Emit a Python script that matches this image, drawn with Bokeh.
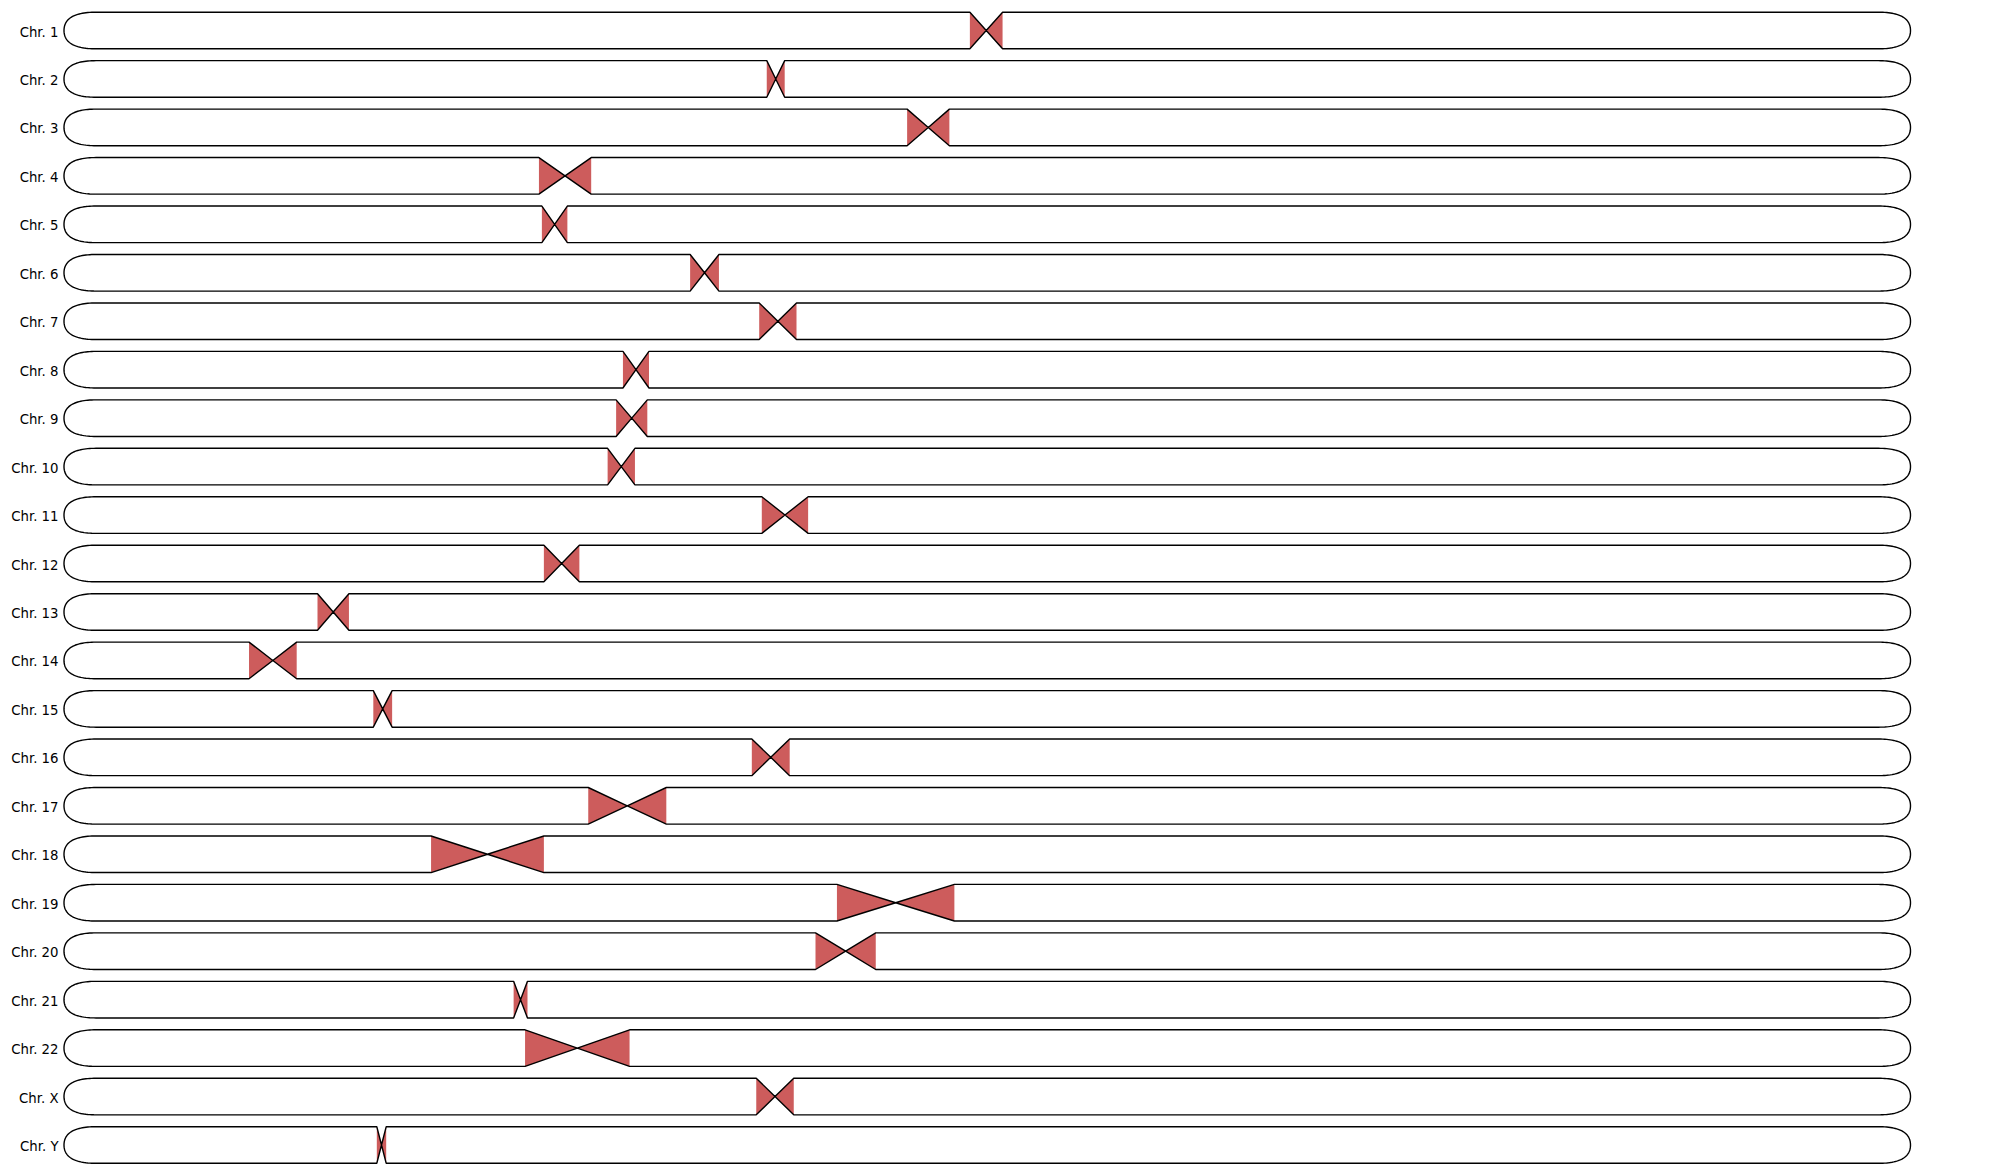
import numpy as np
from bokeh.plotting import figure
from bokeh.models import Range1d
from bokeh.embed import file_html
from bokeh.resources import INLINE
from bokeh.core.properties import value

# ---- data (centromere start / end as fraction of chromosome length) ----
chromosomes = ["Chr. 1", "Chr. 2", "Chr. 3", "Chr. 4", "Chr. 5", "Chr. 6",
               "Chr. 7", "Chr. 8", "Chr. 9", "Chr. 10", "Chr. 11", "Chr. 12",
               "Chr. 13", "Chr. 14", "Chr. 15", "Chr. 16", "Chr. 17", "Chr. 18",
               "Chr. 19", "Chr. 20", "Chr. 21", "Chr. 22", "Chr. X", "Chr. Y"]
cen_start = [0.4906, 0.3806, 0.4566, 0.2572, 0.2588, 0.3391,
             0.3765, 0.3027, 0.2990, 0.2944, 0.3779, 0.2599,
             0.1373, 0.1002, 0.1675, 0.3725, 0.2839, 0.1988,
             0.4186, 0.4070, 0.2435, 0.2497, 0.3749, 0.1694]
cen_end = [0.5083, 0.3903, 0.4795, 0.2855, 0.2726, 0.3547,
           0.3967, 0.3168, 0.3159, 0.3092, 0.4030, 0.2791,
           0.1543, 0.1260, 0.1777, 0.3930, 0.3262, 0.2599,
           0.4822, 0.4396, 0.2510, 0.3063, 0.3952, 0.1745]

# ---- layout ----
W, H = 2011, 1175
PX0, PX1 = 63.5, 1910.0          # pixel span of a chromosome
SPAN = PX1 - PX0
ROW0, ROWN = 30.0, 1144.5          # pixel centers of first / last row
n = len(chromosomes)
STEP = (ROWN - ROW0) / (n - 1)
HALF = 18.3 / STEP                 # half height in row units
CAP = 32.0 / SPAN                  # rounded cap width in x units


def qbez(p0, p1, p2, m=30):
    t = np.linspace(0, 1, m)
    x = (1 - t) ** 2 * p0[0] + 2 * t * (1 - t) * p1[0] + t ** 2 * p2[0]
    y = (1 - t) ** 2 * p0[1] + 2 * t * (1 - t) * p1[1] + t ** 2 * p2[1]
    return list(x), list(y)


out_xs, out_ys, tri_xs, tri_ys = [], [], [], []
for i in range(n):
    cs, ce = cen_start[i], cen_end[i]
    mid = (cs + ce) / 2
    top, bot, c = i - HALF, i + HALF, float(i)
    xs, ys = [CAP, cs, mid, ce, 1 - CAP], [top, top, c, top, top]
    bx, by = qbez((1 - CAP, top), (1, top), (1, c)); xs += bx; ys += by
    bx, by = qbez((1, c), (1, bot), (1 - CAP, bot)); xs += bx; ys += by
    xs += [ce, mid, cs, CAP]; ys += [bot, c, bot, bot]
    bx, by = qbez((CAP, bot), (0, bot), (0, c)); xs += bx; ys += by
    bx, by = qbez((0, c), (0, top), (CAP, top)); xs += bx; ys += by
    out_xs.append(xs); out_ys.append(ys)
    tri_xs.append([cs, mid, cs]); tri_ys.append([top, c, bot])
    tri_xs.append([ce, mid, ce]); tri_ys.append([top, c, bot])

p = figure(width=W, height=H, output_backend="svg", toolbar_location=None,
           x_range=Range1d(-PX0 / SPAN, (W - PX0) / SPAN),
           y_range=Range1d((n - 1) + (H - ROWN) / STEP, -ROW0 / STEP),
           min_border=0, background_fill_color="white",
           border_fill_color="white")
p.axis.visible = False
p.grid.visible = False
p.outline_line_color = None

p.patches(tri_xs, tri_ys, fill_color="#CD5C5C", line_color=None)
p.patches(out_xs, out_ys, fill_color=None, line_color="black", line_width=1.4)

p.text(x=[(58.0 - PX0) / SPAN] * n, y=list(range(n)), text=chromosomes,
       text_align="right", text_baseline="middle", y_offset=1.5,
       text_font=value("DejaVu Sans"), text_font_size="13.3px",
       text_color="black")

open("out.html", "w").write(file_html(p, INLINE))
